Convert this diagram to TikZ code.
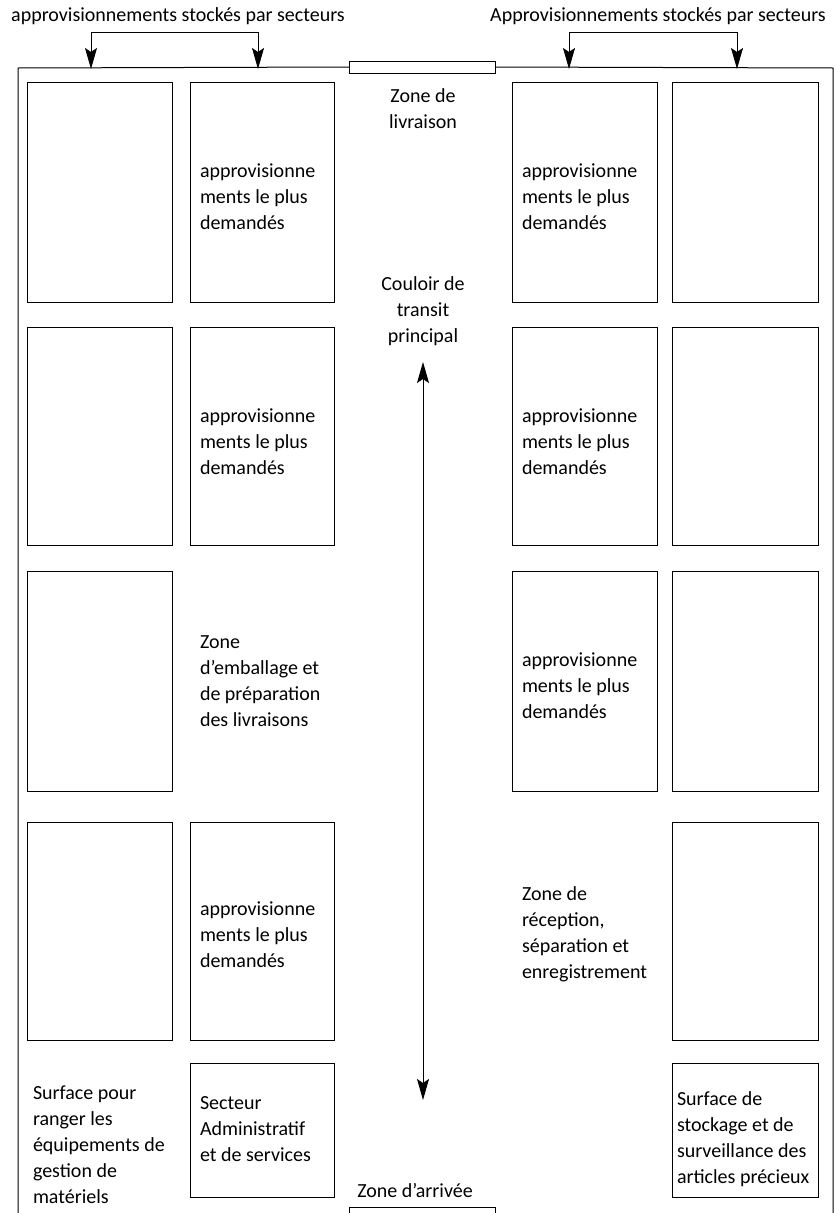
\documentclass[tikz,border=0pt]{standalone}
\usepackage{fontspec}
\setmainfont{Carlito}
\usetikzlibrary{arrows.meta}
\begin{document}
\begin{tikzpicture}[x=1pt,y=-1pt,
  every node/.style={inner sep=0pt, outer sep=0pt},
  txt/.style={font=\fontsize{20}{26}\selectfont, align=left, anchor=base west},
  ctxt/.style={font=\fontsize{20}{26}\selectfont, align=center, anchor=base},
  bay/.style={draw, line width=1pt, anchor=north west},
  frame/.style={line width=1pt},
  tip/.style={-{Stealth[length=21pt,width=12pt,inset=4pt]}, line width=1pt},
  dtip/.style={{Stealth[length=21pt,width=12pt,inset=4pt]}-{Stealth[length=21pt,width=12pt,inset=4pt]}, line width=1pt}
]
\useasboundingbox (0,0) rectangle (837,1213);
\clip (0,0) rectangle (837,1213);
\fill[white] (0,0) rectangle (837,1213);

% outer frame and doors
\node[bay, minimum width=146pt, minimum height=12pt] (livr) at (349,61) {};
\node[bay, minimum width=146pt, minimum height=12pt] (arr) at (349,1207) {};
\coordinate (fbl) at (18,1230);
\coordinate (ftl) at (18,68);
\coordinate (ftr) at (833,68);
\coordinate (fbr) at (833,1230);
\draw[frame] (fbl) -- (ftl) -- (livr.west);
\draw[frame] (livr.east) -- (ftr) -- (fbr);

% column 1
\node[bay, minimum width=145pt, minimum height=220pt] (a1) at (27,82) {};
\node[bay, minimum width=145pt, minimum height=218pt] (a2) at (27,327) {};
\node[bay, minimum width=145pt, minimum height=220pt] (a3) at (27,571) {};
\node[bay, minimum width=145pt, minimum height=218pt] (a4) at (27,822) {};
% column 2
\node[bay, minimum width=144pt, minimum height=220pt] (b1) at (190,82) {};
\node[bay, minimum width=144pt, minimum height=218pt] (b2) at (190,327) {};
\node[bay, minimum width=144pt, minimum height=218pt] (b4) at (190,822) {};
\node[bay, minimum width=144pt, minimum height=134pt] (b5) at (190,1063) {};
% column 3
\node[bay, minimum width=145pt, minimum height=220pt] (c1) at (512,82) {};
\node[bay, minimum width=145pt, minimum height=218pt] (c2) at (512,327) {};
\node[bay, minimum width=145pt, minimum height=220pt] (c3) at (512,571) {};
% column 4
\node[bay, minimum width=146pt, minimum height=220pt] (d1) at (672,82) {};
\node[bay, minimum width=146pt, minimum height=218pt] (d2) at (672,327) {};
\node[bay, minimum width=146pt, minimum height=220pt] (d3) at (672,571) {};
\node[bay, minimum width=146pt, minimum height=218pt] (d4) at (672,822) {};
\node[bay, minimum width=146pt, minimum height=134pt] (d5) at (672,1063) {};

% top labels and brackets
\node[ctxt] (tl) at (178,21) {approvisionnements stockés par secteurs};
\node[ctxt] (tr) at (658,21) {Approvisionnements stockés par secteurs};
\coordinate (l1) at (91,32); \coordinate (l2) at (258,32);
\coordinate (l1e) at (91,69); \coordinate (l2e) at (258,69);
\coordinate (r1) at (569,32); \coordinate (r2) at (737,32);
\coordinate (r1e) at (569,69); \coordinate (r2e) at (737,69);
\draw[tip] (l2) -- (l1) -- (l1e);
\draw[tip] (l1) -- (l2) -- (l2e);
\draw[tip] (r2) -- (r1) -- (r1e);
\draw[tip] (r1) -- (r2) -- (r2e);

% central corridor
\coordinate (cu) at (423,362);
\coordinate (cd) at (423,1100);
\draw[dtip] (cu) -- (cd);

% texts (base anchor = baseline of last line)
\node[ctxt] (tlivr) at (423,128) {Zone de\\livraison};
\node[ctxt] (tcoul) at (423,342) {Couloir de\\transit\\principal};
\node[ctxt] (tarr) at (415,1197) {Zone d'arrivée};

\node[txt] (tb1) at (200,229) {approvisionne\\ments le plus\\demandés};
\node[txt] (tc1) at (522,229) {approvisionne\\ments le plus\\demandés};
\node[txt] (tb2) at (200,474) {approvisionne\\ments le plus\\demandés};
\node[txt] (tc2) at (522,474) {approvisionne\\ments le plus\\demandés};
\node[txt] (tc3) at (522,718) {approvisionne\\ments le plus\\demandés};
\node[txt] (tb4) at (200,967) {approvisionne\\ments le plus\\demandés};
\node[txt] (temb) at (200,726) {Zone\\d'emballage et\\de préparation\\des livraisons};
\node[txt] (trec) at (522,978) {Zone de\\réception,\\séparation et\\enregistrement};
\node[txt] (tsurf) at (33,1203) {Surface pour\\ranger les\\équipements de\\gestion de\\matériels};
\node[txt] (tsect) at (200,1161) {Secteur\\Administratif\\et de services};
\node[txt] (tprec) at (677,1183) {Surface de\\stockage et de\\surveillance des\\articles précieux};
\end{tikzpicture}
\end{document}
